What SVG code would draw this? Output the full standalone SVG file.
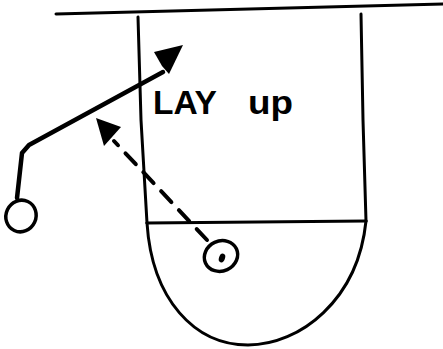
<svg xmlns="http://www.w3.org/2000/svg" width="443" height="349" viewBox="0 0 443 349">
<style>
.ln{fill:none;stroke:#000;stroke-linecap:round;stroke-linejoin:round}
.court{stroke-width:3}
.player{fill:none;stroke:#000;stroke-width:3.5}
.lbl{font-family:"Liberation Sans",Arial,sans-serif;font-size:33px;font-weight:bold;fill:#000}
</style>
<rect width="443" height="349" fill="#fff"/>
<g id="court">
<path class="ln court" d="M56,14 L443,4"/>
<path class="ln court" d="M138,17 L141,120 L147,223"/>
<path class="ln court" d="M361,14 L363,120 L366,221"/>
<path class="ln court" d="M147,223 L366,221"/>
<path class="ln court" d="M147,223 C152,300 195,345 248,345 C300,345 358,300 366,221"/>
</g>
<g id="connectors">
<path class="ln" stroke-width="4.5" d="M17,198 L22,153 L29,145 L163,72"/>
<path fill="#000" d="M154,52 L183,45 L169,74 L162,66 Z"/>
<path class="ln" stroke-width="4" stroke-dasharray="15,11" d="M207,240 L114,141"/>
<path fill="#000" d="M96,118 L121,127 L104,146 Z"/>
</g>
<g id="player-shooter">
<ellipse class="player" cx="21" cy="216" rx="15" ry="16" transform="rotate(25 21 216)"/>
</g>
<g id="player-passer">
<ellipse class="player" cx="221" cy="256" rx="17" ry="15" transform="rotate(-25 221 256)"/>
<ellipse cx="222" cy="258" rx="3" ry="4.5" fill="#000" transform="rotate(20 222 258)"/>
</g>
<g id="label">
<text class="lbl" y="114"><tspan x="153" textLength="64" lengthAdjust="spacingAndGlyphs">LAY</tspan><tspan x="248" textLength="45" lengthAdjust="spacingAndGlyphs">up</tspan></text>
</g>
</svg>
